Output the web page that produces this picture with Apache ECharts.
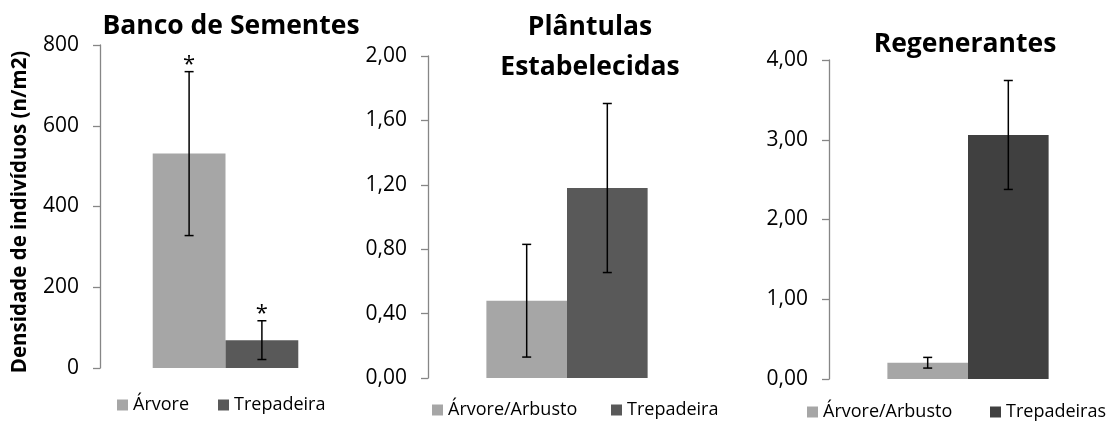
<!DOCTYPE html>
<html>
<head>
<meta charset="utf-8">
<script src="https://cdn.jsdelivr.net/npm/echarts@6/dist/echarts.min.js"></script>
<style>html,body{margin:0;padding:0;background:#fff}#c{width:1107px;height:423px}</style>
</head>
<body>
<div id="c"></div>
<script>
// ---- data ----
const seedTitle = 'Banco de Sementes';
const seedSeries = ['Árvore', 'Trepadeira'];
const seedMeans = [531, 69];
const seedErr = [203, 48];
const seedMarks = ['*', '*'];
const seedTicks = [0, 200, 400, 600, 800];

const seedlingTitle = 'Plântulas\nEstabelecidas';
const seedlingSeries = ['Árvore/Arbusto', 'Trepadeira'];
const seedlingMeans = [0.48, 1.18];
const seedlingErr = [0.35, 0.525];
const seedlingTicks = ['0,00', '0,40', '0,80', '1,20', '1,60', '2,00'];

const regenTitle = 'Regenerantes';
const regenSeries = ['Árvore/Arbusto', 'Trepadeiras'];
const regenMeans = [0.204, 3.06];
const regenErr = [0.067, 0.683];
const regenTicks = ['0,00', '1,00', '2,00', '3,00', '4,00'];

const yName = 'Densidade de indivíduos (n/m2)';

// ---- styles ----
const FONT = 'Open Sans';
const LIGHT = '#A6A6A6';
const DARK1 = '#595959';
const DARK3 = '#404040';
const GAP = 0.42;

const panels = [
  {title: seedTitle, series: seedSeries, means: seedMeans, err: seedErr, marks: seedMarks,
   max: 800, interval: 200, dec: 0, colors: [LIGHT, DARK1],
   grid: {left: 100, top: 45, width: 251, height: 323}, titleX: 226, titleTop: 1,
   legendLeft: [117, 218], legendTop: 396},
  {title: seedlingTitle, series: seedlingSeries, means: seedlingMeans, err: seedlingErr, marks: null,
   max: 2, interval: 0.4, dec: 2, colors: [LIGHT, DARK1],
   grid: {left: 428, top: 56, width: 278, height: 322}, titleX: 585, titleTop: 2,
   legendLeft: [432, 611], legendTop: 401},
  {title: regenTitle, series: regenSeries, means: regenMeans, err: regenErr, marks: null,
   max: 4, interval: 1, dec: 2, colors: [LIGHT, DARK3],
   grid: {left: 829, top: 60, width: 282, height: 319}, titleX: 960, titleTop: 19,
   legendLeft: [807, 990], legendTop: 403}
];

function fmt(v, dec) { return dec ? v.toFixed(dec).replace('.', ',') : String(v); }

function errRender(params, api) {
  const idx = api.value(0), mean = api.value(1), e = api.value(2), s = api.value(3), mk = api.value(4);
  const c = api.coord([idx, mean]);
  const band = api.size([1, 0])[0];
  const bw = band * (1 - GAP) / 2;
  const x = c[0] + (s === 0 ? -bw / 2 : bw / 2);
  const yt = api.coord([idx, mean + e])[1];
  const yb = api.coord([idx, mean - e])[1];
  const cap = 4.5;
  const st = {stroke: '#000', lineWidth: 1.5};
  const children = [
    {type: 'line', shape: {x1: x, y1: yt, x2: x, y2: yb}, style: st},
    {type: 'line', shape: {x1: x - cap, y1: yt, x2: x + cap, y2: yt}, style: st},
    {type: 'line', shape: {x1: x - cap, y1: yb, x2: x + cap, y2: yb}, style: st}
  ];
  if (mk === 1) {
    children.push({type: 'text', style: {text: '*', x: x, y: yt - 7, align: 'center', verticalAlign: 'middle',
      font: '22px "' + FONT + '"', fill: '#000'}});
  }
  return {type: 'group', children: children};
}

const option = {
  animation: false,
  title: [], grid: [], xAxis: [], yAxis: [], series: [], legend: [],
  graphic: [{type: 'text', x: 20, y: 212, rotation: Math.PI / 2, silent: true,
    style: {text: yName, align: 'center', verticalAlign: 'middle',
      font: 'bold 20.5px "' + FONT + '"', fill: '#000'}}]
};

panels.forEach((p, i) => {
  option.title.push({text: p.title, left: p.titleX, top: p.titleTop, textAlign: 'center',
    textStyle: {fontFamily: FONT, fontWeight: 'bold', fontSize: 26.5, color: '#000', lineHeight: 40}});
  option.grid.push(Object.assign({containLabel: false}, p.grid));
  option.xAxis.push({type: 'category', gridIndex: i, data: [p.title],
    axisLine: {show: false}, axisTick: {show: false}, axisLabel: {show: false}, splitLine: {show: false}});
  option.yAxis.push({type: 'value', gridIndex: i, min: 0, max: p.max, interval: p.interval,
    axisLine: {show: true, lineStyle: {color: '#868686', width: 1.3}},
    axisTick: {show: true, length: 7, lineStyle: {color: '#868686', width: 1.3}},
    axisLabel: {margin: 21, fontFamily: FONT, fontSize: 21, color: '#000',
      formatter: v => fmt(v, p.dec)},
    splitLine: {show: false}});
  p.series.forEach((name, k) => {
    option.series.push({type: 'bar', name: name, xAxisIndex: i, yAxisIndex: i,
      data: [p.means[k]], barGap: '0%', barCategoryGap: (GAP * 100) + '%',
      itemStyle: {color: p.colors[k]}});
    option.legend.push({left: p.legendLeft[k], top: p.legendTop, padding: 0, itemWidth: 11, itemHeight: 11,
      icon: 'rect', selectedMode: false, data: [name],
      textStyle: {fontFamily: FONT, fontSize: 18, color: '#000'}});
  });
  option.series.push({type: 'custom', xAxisIndex: i, yAxisIndex: i, z: 10,
    renderItem: errRender, encode: {x: 0, y: 1},
    data: p.series.map((n, k) => [0, p.means[k], p.err[k], k, p.marks ? 1 : 0])});
});

const chart = echarts.init(document.getElementById('c'));
chart.setOption(option);
</script>
</body>
</html>
